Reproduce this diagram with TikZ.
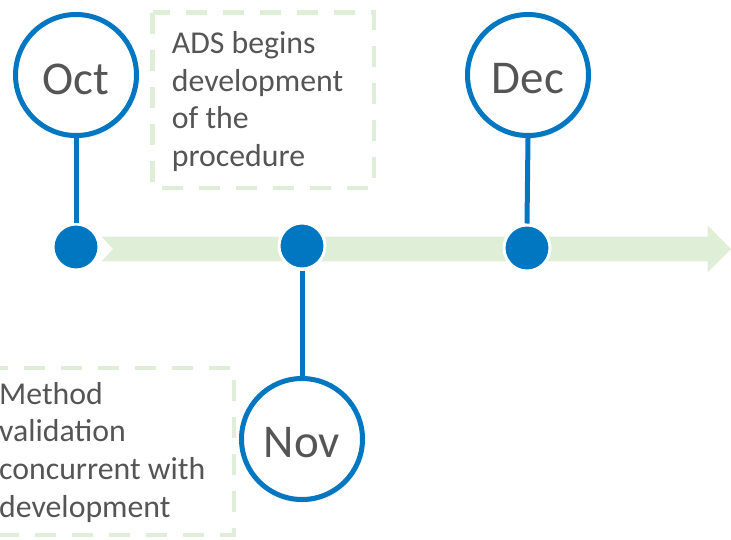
\documentclass[tikz,border=0pt]{standalone}
\usepackage{fontspec}
\setmainfont{Carlito}
\usetikzlibrary{shadows.blur}
\definecolor{tlblue}{HTML}{0077C0}
\definecolor{tlgreen}{HTML}{DFEED6}
\definecolor{tlgrey}{HTML}{555555}
\tikzset{
  month/.style={circle, draw=tlblue, line width=5pt, fill=white, minimum size=121pt, inner sep=0pt,
    blur shadow={shadow xshift=1pt, shadow yshift=-2pt, shadow opacity=25, shadow blur steps=6}},
  monthtext/.style={text=tlgrey, font=\fontsize{47}{55}\selectfont, inner sep=0pt},
  dot/.style={circle, fill=tlblue, draw=white, line width=3pt, minimum size=46pt, inner sep=0pt},
  stem/.style={draw=tlblue, line width=5pt},
  notebox/.style={draw=tlgreen, line width=4.5pt, dash pattern=on 21pt off 16pt},
  notetext/.style={text=tlgrey, font=\fontsize{31.8}{37.7}\selectfont, inner sep=0pt, anchor=base west}
}
\begin{document}
\begin{tikzpicture}[x=1pt, y=-1pt]
\useasboundingbox (0,0) rectangle (731,539);
% timeline band
\fill[tlgreen] (101.7,236.7) -- (707.7,236.7) -- (707.7,225.5) -- (731,249) -- (707.7,272.5)
  -- (707.7,261.3) -- (101.7,261.3) -- (113,249) -- cycle;
% note boxes
\draw[notebox] (152.5,12.5) rectangle (374,188);
\draw[notebox] (-20,368) rectangle (234,535);
\node[notetext] (t1) at (171.7,53.3) {\begin{tabular}[t]{@{}l@{}}ADS begins\\development\\of the\\procedure\end{tabular}};
\node[notetext] (t2) at (-1,404) {\begin{tabular}[t]{@{}l@{}}Method\\validation\\concurrent with\\development\end{tabular}};
% month circles
\node[month] (oct) at (76,75) {};
\node[month] (nov) at (302,439) {};
\node[month] (dec) at (528,75) {};
\node[monthtext] (octl) at ([yshift=-4pt]oct.center) {Oct};
\node[monthtext] (novl) at ([yshift=-4pt]nov.center) {Nov};
\node[monthtext] (decl) at ([yshift=-4pt]dec.center) {Dec};
% dots
\node[dot] (d1) at (76,247) {};
\node[dot] (d2) at (302,246) {};
\node[dot] (d3) at (527,248) {};
% stems
\draw[stem] (oct.south) -- (d1.north);
\draw[stem] (d2.south) -- (nov.north);
\draw[stem] (dec.south) -- (d3.north);
\end{tikzpicture}
\end{document}
